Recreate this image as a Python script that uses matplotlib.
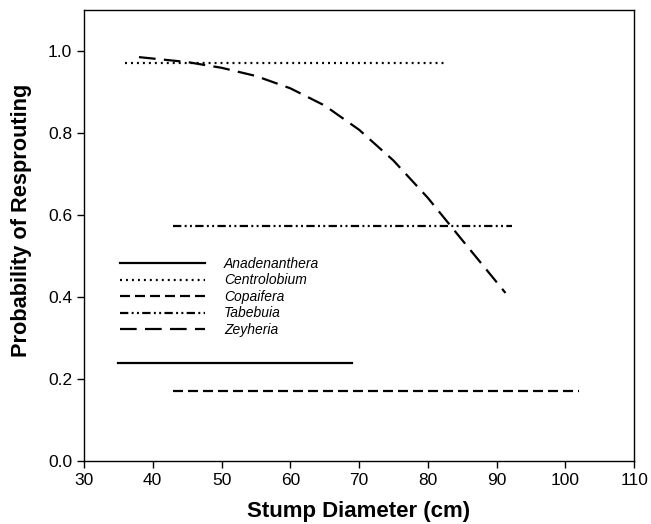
import matplotlib
matplotlib.use("Agg")
import matplotlib.pyplot as plt

plt.rcParams['font.family'] = ['Liberation Sans', 'DejaVu Sans']
plt.rcParams['lines.scale_dashes'] = False

# Data
anad_x = [35, 69]
anad_y = [0.24, 0.24]
cent_x = [36, 82.5]
cent_y = [0.97, 0.97]
copa_x = [43, 102]
copa_y = [0.17, 0.17]
tabe_x = [43, 92.2]
tabe_y = [0.573, 0.573]
zeyh_x = [38, 45, 50, 55, 60, 65, 70, 75, 80, 85, 91.3]
zeyh_y = [0.985, 0.973, 0.959, 0.939, 0.909, 0.867, 0.808, 0.733, 0.642, 0.539, 0.41]

xticks = [30, 40, 50, 60, 70, 80, 90, 100, 110]
yticks = [0.0, 0.2, 0.4, 0.6, 0.8, 1.0]

fig = plt.figure(figsize=(6.51, 5.24), dpi=100)
ax = fig.add_axes([0.129, 0.120, 0.845, 0.861])

lw = 1.6
ax.plot(anad_x, anad_y, color='black', lw=lw, linestyle='-', label='Anadenanthera')
ax.plot(cent_x, cent_y, color='black', lw=lw, linestyle=(0, (1.4, 2.9)), label='Centrolobium')
ax.plot(copa_x, copa_y, color='black', lw=lw, linestyle=(0, (7.2, 3.6)), label='Copaifera')
ax.plot(tabe_x, tabe_y, color='black', lw=lw, linestyle=(0, (6, 2.4, 1.4, 2.4, 1.4, 2.4)), label='Tabebuia')
ax.plot(zeyh_x, zeyh_y, color='black', lw=lw, linestyle=(0, (12, 6)), label='Zeyheria')

ax.set_xlim(30, 110)
ax.set_ylim(0, 1.1)
ax.set_xticks(xticks)
ax.set_yticks(yticks)
ax.set_xticklabels([str(v) for v in xticks])
ax.set_yticklabels([f"{v:.1f}" for v in yticks])
ax.tick_params(direction='out', length=5, width=1, labelsize=12.5, top=False, right=False)
for s in ax.spines.values():
    s.set_linewidth(1)

ax.set_xlabel('Stump Diameter (cm)', fontsize=16, fontweight='bold')
ax.set_ylabel('Probability of Resprouting', fontsize=15.7, fontweight='bold')
ax.xaxis.set_label_coords(0.5, -0.088)
ax.yaxis.set_label_coords(-0.095, 0.534)

leg = ax.legend(loc='upper left', bbox_to_anchor=(0.055, 0.465), frameon=False,
                prop={'style': 'italic', 'size': 10}, handlelength=6.1,
                handletextpad=1.4, labelspacing=0.18, borderaxespad=0)

fig.savefig('out.png', dpi=100)
